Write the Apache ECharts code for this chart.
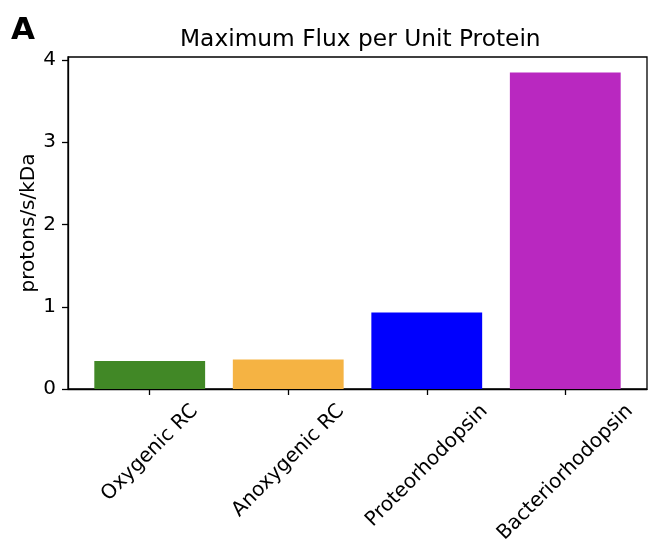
<!DOCTYPE html>
<html>
<head>
<meta charset="utf-8">
<script src="https://cdn.jsdelivr.net/npm/echarts@6/dist/echarts.min.js"></script>
<style>html,body{margin:0;padding:0;background:#fff}#c{width:668px;height:546px}</style>
</head>
<body>
<div id="c"></div>
<script>
const categories = ['Oxygenic RC', 'Anoxygenic RC', 'Proteorhodopsin', 'Bacteriorhodopsin'];
const values = [0.34, 0.36, 0.93, 3.85];
const barColors = ['#418826', '#f5b343', '#0000fe', '#b928c0'];
const yTicks = [0, 1, 2, 3, 4];
const catPositions = [0, 1, 2, 3];

const FONT = '"DejaVu Sans", sans-serif';
const TICK_FS = 20;
const LH = 23;

const cv = document.createElement('canvas').getContext('2d');
cv.font = TICK_FS + 'px "DejaVu Sans"';

const gridBox = { left: 68, right: 21, top: 57, bottom: 157, outerBoundsMode: 'none' };
const xMin = -0.59, xMax = 3.59;
const yMax = 4.037;
const barW = (668 - gridBox.left - gridBox.right) / (xMax - xMin) * 0.8;

const grids = [], xAxes = [], yAxes = [];
catPositions.forEach((pos, i) => {
  const w = cv.measureText(categories[i]).width;
  const main = i === 0;
  grids.push(Object.assign({}, gridBox, main
    ? { show: true, borderColor: '#000', borderWidth: 1.3, backgroundColor: 'transparent' }
    : { show: false }));
  xAxes.push({
    gridIndex: i, type: 'value', min: xMin, max: xMax, position: 'bottom',
    splitLine: { show: false },
    axisLine: { show: main, onZero: false, lineStyle: { color: '#000', width: 1.3 } },
    axisTick: { show: main, customValues: catPositions, length: 6, lineStyle: { color: '#000', width: 1.3 } },
    axisLabel: {
      customValues: [pos], rotate: 45, align: 'center', verticalAlign: 'middle',
      margin: 19 + 0.354 * w, showMinLabel: true, showMaxLabel: true,
      fontFamily: FONT, fontSize: TICK_FS, lineHeight: LH, color: '#000',
      formatter: v => categories[catPositions.indexOf(v)]
    }
  });
  yAxes.push(main ? {
    gridIndex: 0, type: 'value', min: 0, max: yMax, interval: 1,
    name: 'protons/s/kDa', nameLocation: 'middle', nameGap: 29, nameRotate: 90, nameMoveOverlap: false,
    nameTextStyle: { fontFamily: FONT, fontSize: TICK_FS, color: '#000' },
    splitLine: { show: false },
    axisLine: { show: true, onZero: false, lineStyle: { color: '#000', width: 1.3 } },
    axisTick: { show: true, customValues: yTicks, length: 6, lineStyle: { color: '#000', width: 1.3 } },
    axisLabel: { customValues: yTicks, margin: 12, showMinLabel: true, showMaxLabel: true, fontFamily: FONT, fontSize: TICK_FS, color: '#000' }
  } : { gridIndex: i, type: 'value', min: 0, max: yMax, show: false });
});

const chart = echarts.init(document.getElementById('c'), null, { renderer: 'canvas' });
chart.setOption({
  animation: false,
  backgroundColor: '#fff',
  title: [
    { text: 'Maximum Flux per Unit Protein', left: 175, top: 23,
      textStyle: { fontFamily: FONT, fontSize: 23.3, fontWeight: 'normal', color: '#000' } },
    { text: 'A', left: 6, top: 10,
      textStyle: { fontFamily: FONT, fontSize: 31, fontWeight: 'bold', color: '#000' } }
  ],
  grid: grids,
  xAxis: xAxes,
  yAxis: yAxes,
  series: [{
    type: 'bar',
    xAxisIndex: 0, yAxisIndex: 0,
    barWidth: barW,
    data: values.map((v, i) => ({ value: [catPositions[i], v], itemStyle: { color: barColors[i] } }))
  }]
});
</script>
</body>
</html>
